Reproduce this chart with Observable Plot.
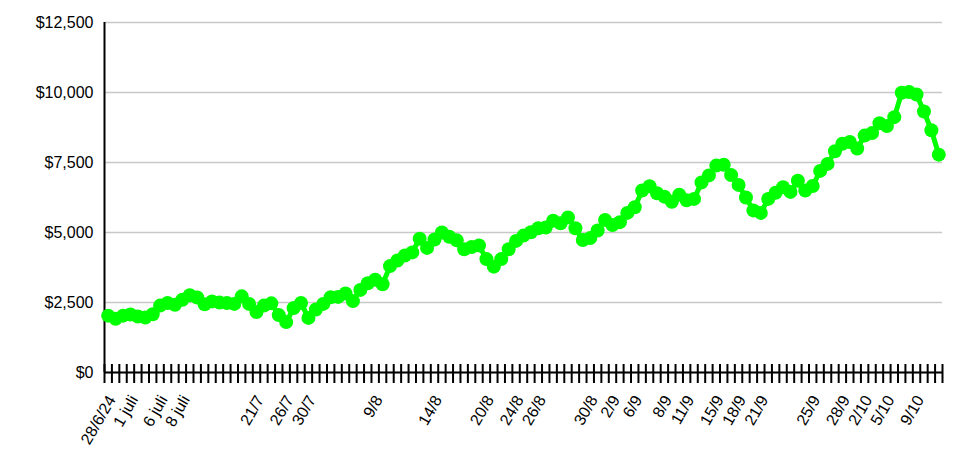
<!DOCTYPE html>
<html><head><meta charset="utf-8">
<script src="https://cdn.jsdelivr.net/npm/d3@7"></script>
<script src="https://cdn.jsdelivr.net/npm/@observablehq/plot@0.6"></script>
<style>body{margin:0;background:#fff} svg{display:block}</style>
</head><body><div id="chart"></div>
<script>
const values = [
  2030, 1920, 2030, 2070, 2000, 1960, 2080, 2390, 2480, 2420,
  2600, 2760, 2680, 2440, 2540, 2500, 2480, 2450, 2720, 2450,
  2160, 2390, 2470, 2050, 1800, 2300, 2480, 1950, 2250, 2450,
  2690, 2700, 2820, 2550, 2950, 3190, 3310, 3150, 3800, 4000,
  4180, 4290, 4780, 4450, 4750, 5000, 4850, 4720, 4400, 4480,
  4540, 4050, 3780, 4050, 4400, 4700, 4890, 5010, 5150, 5180,
  5420, 5330, 5540, 5150, 4730, 4800, 5070, 5450, 5270, 5370,
  5700, 5900, 6500, 6650, 6400, 6280, 6100, 6350, 6150, 6200,
  6790, 7040, 7390, 7420, 7050, 6700, 6250, 5790, 5700, 6200,
  6420, 6620, 6450, 6850, 6500, 6660, 7200, 7450, 7900, 8170,
  8230, 8000, 8460, 8550, 8900, 8800, 9120, 9990, 10020, 9930,
  9320, 8650, 7780
];
const labelIndex = [0, 3, 7, 10, 20, 24, 27, 36, 44, 51, 55, 58, 65, 68, 71, 75, 78, 82, 85, 88, 95, 99, 102, 105, 109];
const labelText = ["28/6/24", "1 juli", "6 juli", "8 juli", "21/7", "26/7", "30/7", "9/8", "14/8", "20/8", "24/8", "26/8", "30/8", "2/9", "6/9", "8/9", "11/9", "15/9", "18/9", "21/9", "25/9", "28/9", "2/10", "5/10", "9/10"];
const yTicks = [0, 2500, 5000, 7500, 10000, 12500];

const N = values.length;
const data = values.map((v, i) => ({i, v}));
const boundaries = d3.range(N + 1).map(i => i - 0.5);
const labels = labelIndex.map((i, k) => ({i, t: labelText[k]}));

const plot = Plot.plot({
  width: 965, height: 474,
  marginLeft: 104, marginRight: 23, marginTop: 22, marginBottom: 102,
  style: {fontFamily: "'Liberation Sans', Arial, sans-serif", fontSize: "16px", color: "#000", background: "#fff", overflow: "visible"},
  x: {type: "linear", domain: [-0.5, N - 0.5], axis: null},
  y: {domain: [0, 12500], axis: null},
  marks: [
    Plot.gridY(yTicks, {stroke: "#c8c8c8", strokeOpacity: 1, strokeWidth: 1.5}),
    Plot.axisY(yTicks, {label: null, tickSize: 0, tickPadding: 11, tickFormat: d3.format("$,"), fontSize: 16, fill: "#000"}),
    Plot.ruleX(boundaries, {x: d => d, insetTop: 342, insetBottom: -11, stroke: "#000", strokeWidth: 2}),
    Plot.ruleY([0], {stroke: "#000", strokeWidth: 2}),
    Plot.ruleX([-0.5], {stroke: "#000", strokeWidth: 2}),
    Plot.text(labels, {x: "i", text: "t", frameAnchor: "bottom", rotate: -60, textAnchor: "end", dy: 27, dx: 8, fontSize: 16, fill: "#000"}),
    Plot.line(data, {x: "i", y: "v", stroke: "#00ff00", strokeWidth: 5}),
    Plot.dot(data, {x: "i", y: "v", r: 7, fill: "#00ff00", stroke: "none"})
  ]
});
document.getElementById("chart").appendChild(plot);
</script>
</body></html>
